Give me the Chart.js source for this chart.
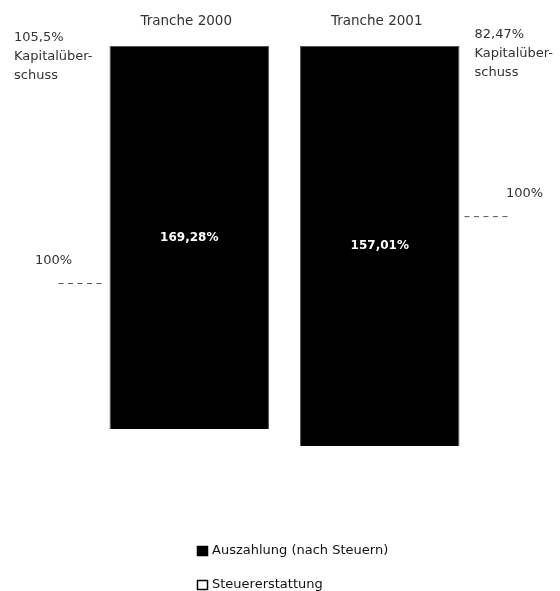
<!DOCTYPE html>
<html lang="de">
  <head>
    <meta charset="UTF-8" />
    <title>Tranche 2000 / Tranche 2001</title>
  </head>
  <style>
    * {
      margin: 0;
      padding: 0;
    }
    body {
      background: #fff;
    }
    .chartBox {
      width: 560px;
      height: 591px;
    }
  </style>
  <body>
    <div class="chartBox">
      <canvas id="myChart"></canvas>
    </div>

    <script src="https://cdn.jsdelivr.net/npm/chart.js"></script>

    <script>
      // data (bar heights, in % of the 2001 bar scale)
      const tranchen = ["Tranche 2000", "Tranche 2001"];
      const auszahlungStart = [7.4, 0];
      const auszahlungEnd = [174, 174];
      const auszahlungText = ["169,28%", "157,01%"];
      const steuererstattung = [null, null];
      const marke100 = [70.9, 100];
      const marke100Text = ["100%", "100%"];
      const ueberschussWert = ["105,5%", "82,47%"];
      const ueberschussText = ["Kapitalüber-", "schuss"];

      const data = {
        labels: tranchen,
        datasets: [
          {
            label: "Auszahlung (nach Steuern)",
            data: auszahlungStart.map((s, i) => [s, auszahlungEnd[i]]),
            backgroundColor: "#000",
            borderColor: "#555",
            borderWidth: 1,
            grouped: false
          },
          {
            label: "Steuererstattung",
            data: steuererstattung,
            backgroundColor: "#fff",
            borderColor: "#000",
            borderWidth: 1,
            grouped: false
          }
        ]
      };

      const font = "DejaVu Sans";

      // labels, 100% marks and surplus notes
      const annotations = {
        id: "annotations",
        afterDatasetsDraw: (chart) => {
          const { ctx, scales: { x, y } } = chart;
          const meta = chart.getDatasetMeta(0);
          ctx.save();

          meta.data.forEach((bar, i) => {
            const left = bar.x - bar.width / 2;
            const right = bar.x + bar.width / 2;

            // category title
            ctx.fillStyle = "#333";
            ctx.font = "13.5px '" + font + "'";
            ctx.textAlign = "center";
            ctx.textBaseline = "middle";
            ctx.fillText(tranchen[i], x.getPixelForValue(i) - 3, 21);

            // value inside bar
            ctx.fillStyle = "#fff";
            ctx.font = "bold 12px '" + font + "'";
            ctx.fillText(auszahlungText[i], bar.x, (bar.y + bar.base) / 2);

            // 100% mark
            const my = y.getPixelForValue(marke100[i]);
            ctx.strokeStyle = "#555";
            ctx.lineWidth = 1;
            ctx.setLineDash([5, 4.5]);
            ctx.beginPath();
            if (i === 0) {
              ctx.moveTo(left - 51, my + 0.5);
              ctx.lineTo(left - 5, my + 0.5);
            } else {
              ctx.moveTo(right + 5, my + 0.5);
              ctx.lineTo(right + 50, my + 0.5);
            }
            ctx.stroke();
            ctx.setLineDash([]);

            ctx.fillStyle = "#333";
            ctx.font = "13px '" + font + "'";
            ctx.fillText(
              marke100Text[i],
              i === 0 ? left - 56 : right + 65,
              my - 22
            );

            // surplus note
            ctx.textAlign = "left";
            const tx = i === 0 ? 14 : right + 15;
            const ty = i === 0 ? 38 : 35;
            ctx.fillText(ueberschussWert[i], tx, ty);
            ueberschussText.forEach((t, k) => {
              ctx.fillText(t, tx, ty + 19 * (k + 1));
            });
          });

          ctx.restore();
        }
      };

      // legend (one row per dataset)
      const legendRows = {
        id: "legendRows",
        afterDraw: (chart) => {
          const { ctx } = chart;
          ctx.save();
          ctx.font = "13px '" + font + "'";
          ctx.textBaseline = "middle";
          ctx.textAlign = "left";
          chart.data.datasets.forEach((ds, i) => {
            const cy = 551 + i * 34;
            ctx.fillStyle = ds.backgroundColor;
            ctx.fillRect(197.5, cy - 4.5, 10, 9);
            ctx.strokeStyle = "#000";
            ctx.lineWidth = 1.5;
            ctx.strokeRect(197.5, cy - 4.5, 10, 9);
            ctx.fillStyle = "#111";
            ctx.fillText(ds.label, 212, cy);
          });
          ctx.restore();
        }
      };

      const config = {
        type: "bar",
        data,
        options: {
          responsive: true,
          maintainAspectRatio: false,
          animation: false,
          layout: {
            padding: { left: 94, right: 85, top: 46, bottom: 145 }
          },
          datasets: {
            bar: {
              barPercentage: 1,
              categoryPercentage: 0.837
            }
          },
          scales: {
            x: { display: false },
            y: { display: false, min: 0, max: 174 }
          },
          plugins: {
            legend: { display: false },
            tooltip: { enabled: false }
          }
        },
        plugins: [annotations, legendRows]
      };

      const ctx = document.getElementById("myChart");
      const myChart = new Chart(ctx, config);
    </script>
  </body>
</html>
